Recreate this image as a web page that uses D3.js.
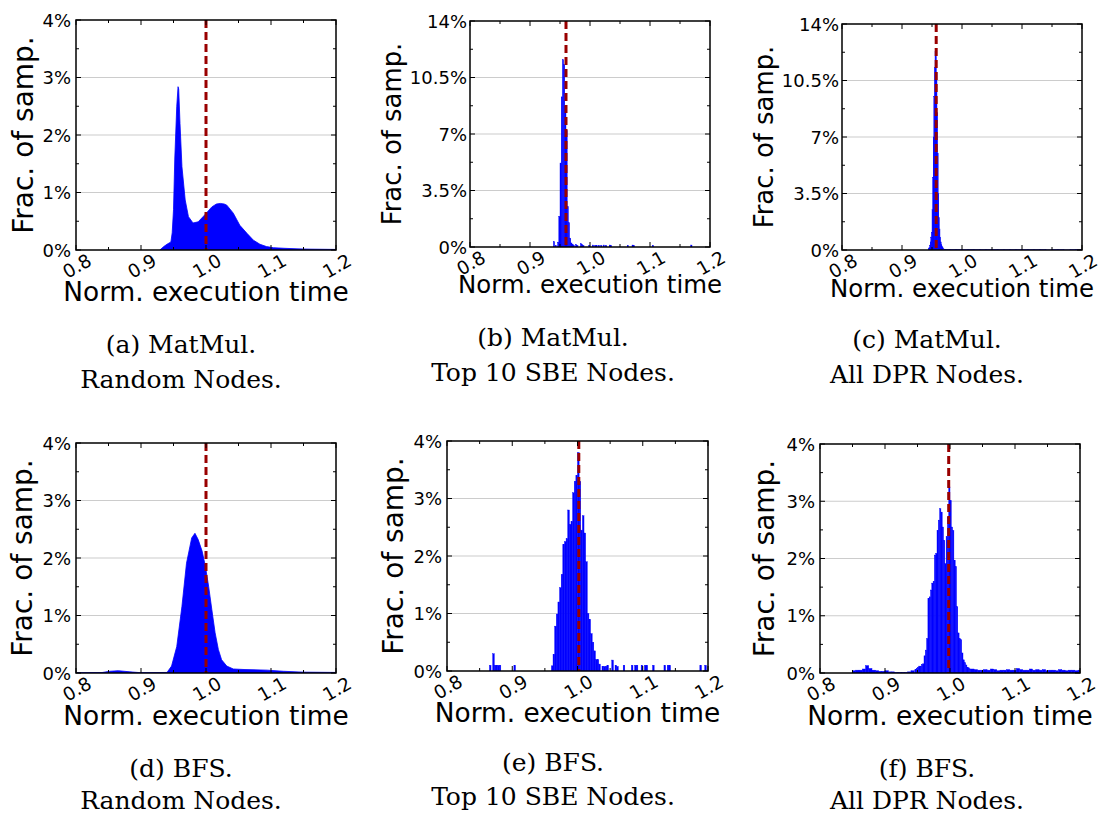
<!DOCTYPE html>
<html><head><meta charset="utf-8">
<script src="https://cdn.jsdelivr.net/npm/d3@7"></script>
<style>body{margin:0;background:#fff;} svg{display:block;}</style>
</head><body>
<svg id="chart" width="1101" height="814"></svg>
<script>
// ---------------- DATA ----------------
const xTicks = [0.8, 0.9, 1.0, 1.1, 1.2];
const xTickLabels = ["0.8", "0.9", "1.0", "1.1", "1.2"];
const xMinorTicks = [0.85, 0.95, 1.05, 1.15];
const yTicks4 = [0, 1, 2, 3, 4];
const yTickLabels4 = ["0%", "1%", "2%", "3%", "4%"];
const yMinor4 = [0.5, 1.5, 2.5, 3.5];
const yTicks14 = [0, 3.5, 7, 10.5, 14];
const yTickLabels14 = ["0%", "3.5%", "7%", "10.5%", "14%"];
const yMinor14 = [1.75, 5.25, 8.75, 12.25];
const xAxisTitle = "Norm. execution time";
const yAxisTitle = "Frac. of samp.";
const captionLine1 = ["(a) MatMul.", "(b) MatMul.", "(c) MatMul.", "(d) BFS.", "(e) BFS.", "(f) BFS."];
const captionLine2 = ["Random Nodes.", "Top 10 SBE Nodes.", "All DPR Nodes.", "Random Nodes.", "Top 10 SBE Nodes.", "All DPR Nodes."];
const meanTimes = [1.0, 0.960, 0.957, 1.0, 1.002, 0.998];

// (a) MatMul, Random nodes  (x = norm. time, y = % of samples)
const aX = [0.929, 0.935, 0.940, 0.946, 0.948, 0.950, 0.952, 0.955, 0.957, 0.958, 0.960, 0.963, 0.968, 0.973, 0.980, 0.988, 0.998, 1.009, 1.016, 1.022, 1.028, 1.032, 1.042, 1.052, 1.063, 1.073, 1.083, 1.093, 1.104, 1.120, 1.140, 1.160, 1.200];
const aY = [0, 0.06, 0.10, 0.14, 0.30, 0.70, 1.60, 2.50, 2.84, 2.80, 2.20, 1.45, 0.87, 0.58, 0.47, 0.49, 0.61, 0.75, 0.80, 0.81, 0.80, 0.78, 0.64, 0.43, 0.29, 0.17, 0.10, 0.06, 0.04, 0.03, 0.02, 0.015, 0.01];

// (d) BFS, Random nodes
const dX = [0.800, 0.840, 0.852, 0.865, 0.883, 0.900, 0.940, 0.947, 0.955, 0.963, 0.970, 0.978, 0.983, 0.988, 0.994, 0.999, 1.004, 1.009, 1.014, 1.019, 1.024, 1.032, 1.042, 1.060, 1.094, 1.119, 1.150, 1.200];
const dY = [0.005, 0.008, 0.03, 0.04, 0.02, 0.005, 0.01, 0.12, 0.46, 1.16, 1.91, 2.35, 2.43, 2.32, 2.12, 1.86, 1.51, 1.10, 0.70, 0.41, 0.23, 0.12, 0.07, 0.06, 0.05, 0.03, 0.015, 0.01];

// (b) MatMul, Top 10 SBE nodes: histogram bins (start) and values, bin width 0.002
const bBins = [0.939, 0.942, 0.946, 0.948, 0.950, 0.952, 0.954, 0.956, 0.958, 0.960, 0.962, 0.964, 0.966, 0.968, 0.970, 0.972, 0.976, 0.978, 0.984, 0.986, 0.988, 0.998, 1.004, 1.008, 1.010, 1.014, 1.018, 1.022, 1.026, 1.032, 1.034, 1.062, 1.070, 1.072, 1.104, 1.168];
const bVals = [0.33, 0.10, 0.30, 1.9, 5.2, 9.3, 11.6, 11.3, 8.7, 7.2, 2.5, 1.5, 0.55, 0.25, 0.15, 0.10, 0.15, 0.10, 0.20, 0.15, 0.10, 0.10, 0.12, 0.10, 0.10, 0.10, 0.10, 0.12, 0.10, 0.12, 0.10, 0.10, 0.12, 0.10, 0.10, 0.12];

// (c) MatMul, All DPR nodes: bin width 0.001
const cBins = [0.944, 0.945, 0.946, 0.947, 0.948, 0.949, 0.950, 0.951, 0.952, 0.953, 0.954, 0.955, 0.956, 0.957, 0.958, 0.959, 0.960, 0.961, 0.962, 0.963, 0.964, 0.965, 0.966, 0.967, 0.968, 0.970, 0.972];
const cVals = [0.08, 0.15, 0.30, 0.50, 0.80, 1.10, 2.50, 4.50, 7.00, 9.50, 11.3, 12.3, 12.0, 11.0, 8.50, 6.00, 3.50, 2.00, 1.30, 0.80, 0.50, 0.35, 0.25, 0.18, 0.12, 0.06, 0.04];
// (c) long tail, bin width 0.01
const cTailBins = [0.97, 0.98, 0.99, 1.00, 1.01, 1.02, 1.03, 1.04, 1.05, 1.06, 1.07, 1.08, 1.09, 1.10, 1.11, 1.12, 1.13, 1.14, 1.15, 1.16, 1.17, 1.18, 1.19];
const cTailVals = [0.04, 0.03, 0.03, 0.02, 0.03, 0.02, 0.02, 0.02, 0.03, 0.02, 0.02, 0.02, 0.02, 0.02, 0.02, 0.02, 0.02, 0.01, 0.02, 0.02, 0.01, 0.02, 0.02];

// (e) BFS, Top 10 SBE nodes: bin width 0.0025
const eBins = [0.8650, 0.8700, 0.8725, 0.8750, 0.8775, 0.8800, 0.9025,
  0.9600, 0.9625, 0.9650, 0.9675, 0.9700, 0.9725, 0.9750, 0.9775, 0.9800, 0.9825, 0.9850, 0.9875, 0.9900, 0.9925, 0.9950, 0.9975,
  1.0000, 1.0025, 1.0050, 1.0075, 1.0100, 1.0125, 1.0150, 1.0175, 1.0200, 1.0225, 1.0250, 1.0275, 1.0300, 1.0325,
  1.0375, 1.0400, 1.0425, 1.0450, 1.0525, 1.0575, 1.0600, 1.0700, 1.0825, 1.0875, 1.0900, 1.0975, 1.1025, 1.1050, 1.1150, 1.1325, 1.1375, 1.1400, 1.1875, 1.1950];
const eVals = [0.10, 0.30, 0.10, 0.10, 0.10, 0.10, 0.10,
  0.09, 0.29, 0.78, 0.99, 1.20, 1.45, 1.68, 2.20, 2.25, 2.30, 2.80, 2.55, 2.60, 3.10, 3.30, 3.40,
  3.80, 3.30, 2.45, 2.70, 2.40, 1.90, 1.00, 0.90, 0.65, 0.50, 0.35, 0.20, 0.20, 0.12,
  0.08, 0.08, 0.08, 0.10, 0.19, 0.10, 0.08, 0.10, 0.10, 0.10, 0.10, 0.10, 0.10, 0.10, 0.10, 0.10, 0.10, 0.10, 0.10, 0.10];

// (f) BFS, All DPR nodes: main body, bin width 0.002
const fBins = [0.946, 0.948, 0.950, 0.952, 0.954, 0.956, 0.958, 0.960, 0.962, 0.964, 0.966, 0.968, 0.970, 0.972, 0.974, 0.976, 0.978, 0.980, 0.982, 0.984, 0.986, 0.988, 0.990, 0.992, 0.994, 0.996, 0.998, 1.000, 1.002, 1.004, 1.006, 1.008, 1.010, 1.012, 1.014, 1.016, 1.018, 1.020, 1.022, 1.024, 1.026, 1.028, 1.030];
const fVals = [0.06, 0.08, 0.10, 0.12, 0.12, 0.15, 0.16, 0.30, 0.40, 0.60, 1.30, 1.33, 1.45, 1.57, 1.60, 2.06, 2.09, 2.49, 2.67, 2.87, 2.81, 2.55, 2.32, 1.91, 2.38, 2.72, 3.25, 3.01, 2.55, 2.49, 1.97, 1.86, 1.16, 0.70, 0.60, 0.58, 0.35, 0.23, 0.18, 0.14, 0.10, 0.09, 0.07];
// (f) tails, bin width 0.005
const fTailBins = [0.850, 0.855, 0.860, 0.865, 0.870, 0.875, 0.880, 0.885, 0.890, 0.895, 0.900, 0.905, 0.910, 0.915, 0.920, 0.925, 0.930, 0.935, 0.940,
  1.032, 1.037, 1.042, 1.047, 1.052, 1.057, 1.062, 1.067, 1.072, 1.077, 1.082, 1.087, 1.092, 1.097, 1.102, 1.107, 1.112, 1.117, 1.122, 1.127, 1.132, 1.137, 1.142, 1.147, 1.152, 1.157, 1.162, 1.167, 1.172, 1.177, 1.182, 1.187, 1.192, 1.197];
const fTailVals = [0.04, 0.05, 0.05, 0.07, 0.13, 0.08, 0.05, 0.04, 0.03, 0.03, 0.04, 0.02, 0.02, 0.01, 0.01, 0.01, 0.01, 0.02, 0.04,
  0.07, 0.06, 0.05, 0.05, 0.06, 0.05, 0.07, 0.06, 0.04, 0.05, 0.05, 0.06, 0.05, 0.05, 0.08, 0.06, 0.05, 0.05, 0.07, 0.05, 0.06, 0.05, 0.06, 0.04, 0.05, 0.05, 0.04, 0.06, 0.05, 0.04, 0.05, 0.05, 0.04, 0.05];

// ---------------- LAYOUT ----------------
const panels = [
  { box: [76, 336, 20, 250],  yMax: 4,  yT: yTicks4,  yL: yTickLabels4,  yM: yMinor4,  s: 1,     ylOff: 43, tGap: 5, xlOff: 51,
    area: [aX, aY], hists: [], cap: [181, 353, 388] },
  { box: [470, 710, 21, 247], yMax: 14, yT: yTicks14, yL: yTickLabels14, yM: yMinor14, s: 0.925, ylOff: 69, tGap: 3, xlOff: 46,
    area: null, hists: [[bBins, bVals, 0.002]], cap: [553, 346, 381] },
  { box: [842, 1082, 24, 250], yMax: 14, yT: yTicks14, yL: yTickLabels14, yM: yMinor14, s: 0.925, ylOff: 69, tGap: 3, xlOff: 47,
    area: null, hists: [[cTailBins, cTailVals, 0.01], [cBins, cVals, 0.001]], cap: [927, 348, 383] },
  { box: [76, 443, 673], yMax: 4 }, // placeholder replaced below
  { box: [447, 708, 441, 671], yMax: 4, yT: yTicks4,  yL: yTickLabels4,  yM: yMinor4,  s: 1,     ylOff: 44, tGap: 5, xlOff: 51,
    area: null, hists: [[eBins, eVals, 0.0025]], cap: [553, 771, 805] },
  { box: [820, 1080, 444, 673], yMax: 4, yT: yTicks4,  yL: yTickLabels4,  yM: yMinor4,  s: 1,     ylOff: 46, tGap: 5, xlOff: 52,
    area: null, hists: [[fTailBins, fTailVals, 0.005], [fBins, fVals, 0.002]], cap: [927, 777, 809] }
];
panels[3] = { box: [76, 336, 443, 673], yMax: 4,  yT: yTicks4,  yL: yTickLabels4,  yM: yMinor4,  s: 1, ylOff: 44, tGap: 5, xlOff: 52,
    area: [dX, dY], hists: [], cap: [181, 777, 809] };

const svg = d3.select("#chart");
svg.append("rect").attr("width", 1101).attr("height", 814).attr("fill", "#fff");
const defs = svg.append("defs");
const SANS = "'DejaVu Sans', Verdana, sans-serif";
const SERIF = "'DejaVu Serif', serif";
const BLUE = "#0000ff";

panels.forEach((p, i) => {
  const [L, R, T, B] = p.box;
  const x = d3.scaleLinear().domain([0.8, 1.2]).range([L, R]);
  const y = d3.scaleLinear().domain([0, p.yMax]).range([B, T]);
  const g = svg.append("g");
  defs.append("clipPath").attr("id", "clip" + i)
    .append("rect").attr("x", L).attr("y", T).attr("width", R - L).attr("height", B - T);

  // grid
  g.selectAll("line.grid").data(p.yT.slice(1, -1)).join("line")
    .attr("x1", L).attr("x2", R).attr("y1", d => y(d)).attr("y2", d => y(d))
    .attr("stroke", "#cccccc").attr("stroke-width", 1.2);

  const dg = g.append("g").attr("clip-path", `url(#clip${i})`);
  if (p.area) {
    const pts = d3.zip(p.area[0], p.area[1]);
    dg.append("path").datum(pts)
      .attr("d", d3.area().x(d => x(d[0])).y0(y(0)).y1(d => y(d[1])))
      .attr("fill", BLUE).attr("stroke", BLUE).attr("stroke-width", 0.8);
  }
  p.hists.forEach(h => {
    const [bins, vals, w] = h;
    dg.append("g").selectAll("rect").data(d3.zip(bins, vals)).join("rect")
      .attr("x", d => x(d[0]))
      .attr("width", d => Math.max(x(d[0] + w) - x(d[0]), 0.8))
      .attr("y", d => y(d[1]))
      .attr("height", d => y(0) - y(d[1]))
      .attr("fill", BLUE).attr("stroke", BLUE).attr("stroke-width", 0.4);
  });

  // mean line
  dg.append("line").attr("x1", x(meanTimes[i])).attr("x2", x(meanTimes[i]))
    .attr("y1", T).attr("y2", B)
    .attr("stroke", "#990000").attr("stroke-width", 3).attr("stroke-dasharray", "8,4");

  // ticks (inward, all sides)
  const tk = g.append("g").attr("stroke", "#000").attr("stroke-width", 1);
  const major = 5, minor = 3;
  xTicks.forEach(t => {
    tk.append("line").attr("x1", x(t)).attr("x2", x(t)).attr("y1", B).attr("y2", B - major);
    tk.append("line").attr("x1", x(t)).attr("x2", x(t)).attr("y1", T).attr("y2", T + major);
  });
  xMinorTicks.forEach(t => {
    tk.append("line").attr("x1", x(t)).attr("x2", x(t)).attr("y1", B).attr("y2", B - minor);
    tk.append("line").attr("x1", x(t)).attr("x2", x(t)).attr("y1", T).attr("y2", T + minor);
  });
  p.yT.forEach(t => {
    tk.append("line").attr("x1", L).attr("x2", L + major).attr("y1", y(t)).attr("y2", y(t));
    tk.append("line").attr("x1", R).attr("x2", R - major).attr("y1", y(t)).attr("y2", y(t));
  });
  p.yM.forEach(t => {
    tk.append("line").attr("x1", L).attr("x2", L + minor).attr("y1", y(t)).attr("y2", y(t));
    tk.append("line").attr("x1", R).attr("x2", R - minor).attr("y1", y(t)).attr("y2", y(t));
  });

  // frame
  g.append("rect").attr("x", L).attr("y", T).attr("width", R - L).attr("height", B - T)
    .attr("fill", "none").attr("stroke", "#000").attr("stroke-width", 1.5);

  // y tick labels
  g.selectAll("text.yt").data(p.yT).join("text")
    .attr("x", L - p.tGap).attr("y", d => y(d))
    .attr("text-anchor", "end").attr("dominant-baseline", "central")
    .attr("font-family", SANS).attr("font-size", 18)
    .text((d, j) => p.yL[j]);

  // x tick labels (rotated)
  xTicks.forEach((t, j) => {
    const cx = x(t) + 1, cy = B + 16;
    g.append("text").attr("x", cx).attr("y", cy)
      .attr("text-anchor", "middle").attr("dominant-baseline", "central")
      .attr("font-family", SANS).attr("font-size", 18.5)
      .attr("transform", `rotate(-30,${cx},${cy})`)
      .text(xTickLabels[j]);
  });

  // axis titles
  g.append("text").attr("x", (L + R) / 2).attr("y", B + p.xlOff)
    .attr("text-anchor", "middle").attr("font-family", SANS).attr("font-size", 26.4 * p.s)
    .text(xAxisTitle);
  const yx = L - p.ylOff, yy = (T + B) / 2;
  g.append("text").attr("x", yx).attr("y", yy)
    .attr("text-anchor", "middle").attr("font-family", SANS).attr("font-size", 28 * p.s)
    .attr("transform", `rotate(-90,${yx},${yy})`)
    .text(yAxisTitle);

  // caption
  g.append("text").attr("x", p.cap[0]).attr("y", p.cap[1])
    .attr("text-anchor", "middle").attr("font-family", SERIF).attr("font-size", 25)
    .text(captionLine1[i]);
  g.append("text").attr("x", p.cap[0]).attr("y", p.cap[2])
    .attr("text-anchor", "middle").attr("font-family", SERIF).attr("font-size", 25)
    .text(captionLine2[i]);
});
</script>
</body></html>
